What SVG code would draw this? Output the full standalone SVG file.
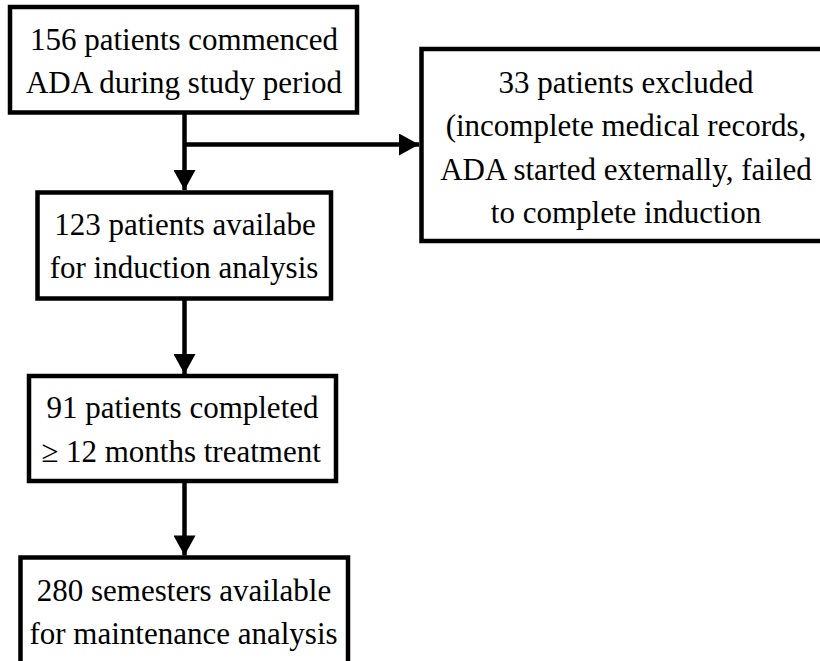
<svg xmlns="http://www.w3.org/2000/svg" width="820" height="661" viewBox="0 0 820 661">
<style>
.box{fill:#fff;stroke:#000;stroke-width:4.5}
.t{font-family:'Liberation Serif','Times New Roman',Times,Tinos,'Noto Serif','DejaVu Serif',serif;font-size:31px;fill:#000;text-anchor:middle}
.ln{fill:none;stroke:#000;stroke-width:4.5}
</style>
<defs>
<marker id="ah" markerUnits="userSpaceOnUse" markerWidth="22" markerHeight="22" viewBox="0 0 20 22" refX="20" refY="11" orient="auto">
<path d="M0,0 L20,11 L0,22 Z" fill="#000"/>
</marker>
</defs>
<rect width="820" height="661" fill="#fff"/>
<g id="connectors">
<line class="ln" x1="184.5" y1="112" x2="184.5" y2="190" marker-end="url(#ah)"/>
<line class="ln" x1="184.5" y1="144.5" x2="419" y2="144.5" marker-end="url(#ah)"/>
<line class="ln" x1="184.5" y1="298" x2="184.5" y2="374" marker-end="url(#ah)"/>
<line class="ln" x1="184.5" y1="481" x2="184.5" y2="555.5" marker-end="url(#ah)"/>
</g>
<g id="n1">
<rect class="box" x="10" y="7" width="347" height="105.5"/>
<text class="t" x="184" y="50">156 patients commenced</text>
<text class="t" x="184" y="93">ADA during study period</text>
</g>
<g id="n2">
<rect class="box" x="421.5" y="49" width="405" height="192"/>
<text class="t" x="626" y="93">33 patients excluded</text>
<text class="t" x="626" y="136">(incomplete medical records,</text>
<text class="t" x="626" y="180">ADA started externally, failed</text>
<text class="t" x="626" y="223">to complete induction</text>
</g>
<g id="n3">
<rect class="box" x="37.5" y="192.5" width="293.5" height="106"/>
<text class="t" x="185" y="235">123 patients availabe</text>
<text class="t" x="184" y="278">for induction analysis</text>
</g>
<g id="n4">
<rect class="box" x="29" y="376" width="307" height="105"/>
<text class="t" x="182.5" y="418">91 patients completed</text>
<text class="t" x="181" y="462">≥ 12 months treatment</text>
</g>
<g id="n5">
<rect class="box" x="20.5" y="557.5" width="327.5" height="120"/>
<text class="t" x="184" y="600.5">280 semesters available</text>
<text class="t" x="183.5" y="643.5">for maintenance analysis</text>
</g>
</svg>
